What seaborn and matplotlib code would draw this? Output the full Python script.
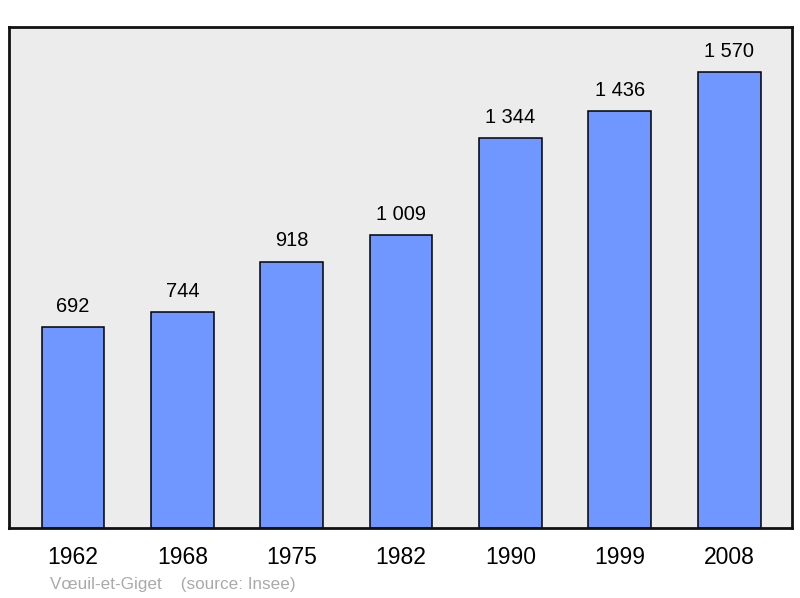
import seaborn as sns
import matplotlib.pyplot as plt
import pandas as pd

# data
years = ["1962", "1968", "1975", "1982", "1990", "1999", "2008"]
population = [692, 744, 918, 1009, 1344, 1436, 1570]

df = pd.DataFrame({"year": years, "pop": population})

sns.set_style("white")
plt.rcParams['font.family'] = ['Liberation Sans', 'DejaVu Sans']
plt.rcParams['text.color'] = 'black'
plt.rcParams['xtick.color'] = 'black'

fig = plt.figure(figsize=(8, 5.98), dpi=100)
ax = fig.add_axes([0.01125, 0.117, 0.97875, 0.838])
ax.set_facecolor("#ececec")

sns.barplot(data=df, x="year", y="pop", color="#7096ff", saturation=1,
            width=0.575, edgecolor="black", linewidth=1.1, ax=ax)

ax.set_xlim(-0.585, 6.575)
ax.set_ylim(0, 1727)

# value labels
for i, v in enumerate(population):
    txt = f"{v:,}".replace(",", " ")
    ax.text(i, v + 72, txt, ha="center", va="center", fontsize=14.4, color="black")

ax.set_yticks([])
ax.set_xlabel("")
ax.set_ylabel("")
ax.tick_params(axis="x", length=0, labelsize=16.5, pad=13, labelcolor="black")
for s in ax.spines.values():
    s.set_visible(True)
    s.set_linewidth(2)
    s.set_color("#111111")

fig.text(50 / 800, 1 - 584 / 598, "Vœuil-et-Giget    (source: Insee)",
         color="#aaaaaa", fontsize=12.3, va="center", ha="left")

fig.savefig("out.png", dpi=100)
